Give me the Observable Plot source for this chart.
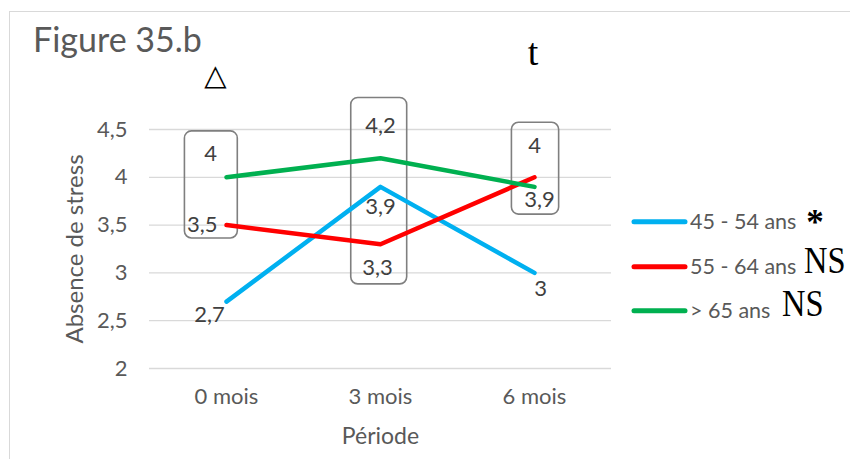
<!DOCTYPE html>
<html><head><meta charset="utf-8">
<script src="https://cdn.jsdelivr.net/npm/d3@7"></script>
<script src="https://cdn.jsdelivr.net/npm/@observablehq/plot@0.6"></script>
<style>
html,body{margin:0;padding:0;background:#fff;overflow:hidden;}
#wrap{position:relative;width:850px;height:459px;overflow:hidden;}
#frame{position:absolute;left:9px;top:11px;width:900px;height:500px;border-top:1.5px solid #d9d9d9;border-left:1.5px solid #d9d9d9;}
#chart{position:absolute;left:0;top:0;}
#overlay{position:absolute;left:0;top:0;}
</style></head><body>
<div id="wrap"><div id="frame"></div><div id="chart"></div><svg id="overlay" width="850" height="459"></svg></div>
<script>
// ---- data ----
const months = [0, 3, 6];
const monthLabels = ["0 mois", "3 mois", "6 mois"];
const series = ["45 - 54 ans", "55 - 64 ans", "> 65 ans"];
const values4554 = [2.7, 3.9, 3];
const values5564 = [3.5, 3.3, 4];
const values65 = [4, 4.2, 3.9];
const seriesNotes = ["*", "NS", "NS"];
const yTicks = [2, 2.5, 3, 3.5, 4, 4.5];
const titleText = "Figure 35.b";
const xTitle = "Période";
const yTitle = "Absence de stress";

// ---- styling ----
const colors = ["#00B0F0", "#FF0000", "#00B050"];
// label placement per series, per month: [dx, dy, anchor]
const labelPlacement = [
  [[-17, 13, "middle"], [0, 20, "middle"], [6, 16, "middle"]],
  [[-9, 0, "end"], [-3, 24, "middle"], [0, -31, "middle"]],
  [[-16, -23, "middle"], [0, -32, "middle"], [5, 13, "middle"]]
];
// highlight boxes (annotation), in data units
const boxes = [
  {x1: -0.81, x2: 0.22, y1: 3.36, y2: 4.48},
  {x1: 2.43, x2: 3.52, y1: 2.88, y2: 4.83},
  {x1: 5.56, x2: 6.48, y1: 3.61, y2: 4.57}
];

const allValues = [values4554, values5564, values65];
const data = [];
series.forEach((s, i) => months.forEach((m, j) => data.push({series: s, si: i, mi: j, month: m, value: allValues[i][j]})));
const fmt = v => String(v).replace(".", ",");

const labelMarks = data.map(d => {
  const [dx, dy, anchor] = labelPlacement[d.si][d.mi];
  return Plot.text([d], {x: "month", y: "value", text: d => fmt(d.value), dx, dy, textAnchor: anchor,
    fill: "#404040", fontSize: 22});
});

const chart = Plot.plot({
  width: 850, height: 459,
  marginLeft: 149, marginRight: 239, marginTop: 129, marginBottom: 91,
  x: {type: "linear", domain: [-1.5, 7.5]},
  y: {domain: [2, 4.5]},
  color: {domain: series, range: colors},
  style: {fontFamily: "Lato, sans-serif", color: "#595959", background: "transparent", overflow: "visible"},
  marks: [
    Plot.gridY(yTicks, {stroke: "#d9d9d9", strokeOpacity: 1, strokeWidth: 1.3}),
    Plot.axisY(yTicks, {tickSize: 0, tickPadding: 22, tickFormat: fmt, fontSize: 22, label: null}),
    Plot.axisX(months, {tickSize: 0, tickPadding: 20, tickFormat: d => monthLabels[months.indexOf(d)], fontSize: 22, label: null}),
    Plot.text([xTitle], {frameAnchor: "bottom", dy: 68, lineAnchor: "middle", textAnchor: "middle", fontSize: 23, fill: "#595959"}),
    Plot.text([yTitle], {frameAnchor: "left", dx: -74, rotate: -90, lineAnchor: "middle", textAnchor: "middle", fontSize: 24, fill: "#595959"}),
    Plot.rect(boxes, {x1: "x1", x2: "x2", y1: "y1", y2: "y2", rx: 7, fill: "none", stroke: "#7f7f7f", strokeWidth: 1.6}),
    Plot.line(data, {x: "month", y: "value", z: "series", stroke: "series", strokeWidth: 4.5, strokeLinecap: "round", strokeLinejoin: "round"}),
    ...labelMarks
  ]
});
document.getElementById("chart").appendChild(chart);

// ---- overlay: title, symbols, legend ----
const ov = d3.select("#overlay");
ov.append("text").attr("x", 33).attr("y", 52).attr("font-family", "Lato, sans-serif").attr("font-size", 34).attr("fill", "#595959").text(titleText);
ov.append("text").attr("x", 215.5).attr("y", 85).attr("text-anchor", "middle").attr("font-family", "DejaVu Sans").attr("font-size", 29).attr("fill", "#000").text("△");
ov.append("text").attr("x", 533).attr("y", 65).attr("text-anchor", "middle").attr("font-family", "Liberation Serif, serif").attr("font-size", 38).attr("fill", "#000").text("t");

const legendY = [221.7, 266.7, 310.7];
series.forEach((s, i) => {
  const y = legendY[i];
  ov.append("line").attr("x1", 634).attr("x2", 685).attr("y1", y).attr("y2", y)
    .attr("stroke", colors[i]).attr("stroke-width", 5).attr("stroke-linecap", "round");
  ov.append("text").attr("x", 690).attr("y", y + 7.5).attr("font-family", "Lato, sans-serif").attr("font-size", 21.5).attr("fill", "#595959").text(s);
});
ov.append("text").attr("x", 815).attr("y", 234).attr("text-anchor", "middle").attr("font-family", "Liberation Serif, serif").attr("font-weight", "bold").attr("font-size", 35).attr("fill", "#000").text(seriesNotes[0]);
ov.append("text").attr("transform", "translate(804,272.5) scale(1,1.18)").attr("font-family", "Liberation Serif, serif").attr("font-size", 32.5).attr("fill", "#000").text(seriesNotes[1]);
ov.append("text").attr("transform", "translate(782,316) scale(1,1.18)").attr("font-family", "Liberation Serif, serif").attr("font-size", 32.5).attr("fill", "#000").text(seriesNotes[2]);
</script></body></html>
